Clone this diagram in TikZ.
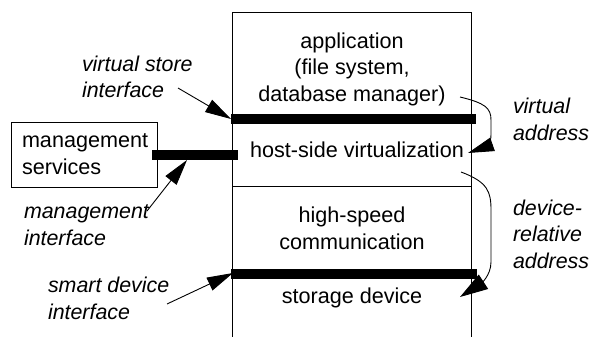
\documentclass[tikz,border=0pt]{standalone}
\usepackage{fontspec}
\setmainfont{Liberation Sans}
\usetikzlibrary{arrows.meta}
\begin{document}
\begin{tikzpicture}[x=1pt,y=-1pt,
  every node/.style={inner sep=0pt, outer sep=0pt},
  txt/.style={font=\fontsize{21.6}{26.5}\selectfont, align=center, anchor=base},
  lbl/.style={font=\fontsize{21.4}{26.5}\selectfont\itshape, align=left, anchor=base west},
  thinline/.style={line width=0.9pt},
  bar/.style={line width=10pt},
  ptr/.style={line width=0.9pt, -{Triangle[length=26pt,width=14pt]}},
  bigptr/.style={line width=0.9pt, -{Triangle[length=28pt,width=17pt]}},
]
\useasboundingbox (0,0) rectangle (592,337);
% main column
\coordinate (bl) at (232,340); \coordinate (tl) at (232,12);
\coordinate (tr) at (471,12);  \coordinate (br) at (471,340);
\draw[thinline] (bl) -- (tl) -- (tr) -- (br);
\coordinate (ml) at (232,186); \coordinate (mr) at (471,186);
\draw[thinline] (ml) -- (mr);
% layer texts (base anchor = baseline of last line)
\node[txt] (app) at (352,101) {application\\(file system,\\database manager)};
\node[txt] (hsv) at (357,157) {host-side virtualization};
\node[txt] (hsc) at (352,249) {high-speed\\communication};
\node[txt] (sd) at (352,303) {storage device};
% interface bars
\coordinate (b1l) at (231,119); \coordinate (b1r) at (476,119);
\draw[bar] (b1l) -- (b1r);
\coordinate (b2l) at (152,155); \coordinate (b2r) at (238,155);
\draw[bar] (b2l) -- (b2r);
\coordinate (b3l) at (231,274); \coordinate (b3r) at (477,274);
\draw[bar] (b3l) -- (b3r);
% management services box
\node[draw, thinline, minimum width=146pt, minimum height=65pt, anchor=north west] (msbox) at (11,122) {};
\node[txt, anchor=base west, align=left] (ms) at (22,174) {management\\services};
% labels
\node[lbl] (vsi) at (82,98) {virtual store\\interface};
\node[lbl] (va) at (513,140) {virtual\\address};
\node[lbl] (mi) at (24,245) {management\\interface};
\node[lbl] (dra) at (513,268) {device-\\relative\\address};
\node[lbl] (sdi) at (48,319) {smart device\\interface};
% pointers
\coordinate (vs0) at (178,88); \coordinate (vs1) at (231,119);
\draw[ptr] (vs0) -- (vs1);
\coordinate (mi0) at (147,211); \coordinate (mi1) at (187,160);
\draw[ptr] (mi0) -- (mi1);
\coordinate (sd0) at (167,304); \coordinate (sd1) at (233,273);
\draw[ptr] (sd0) -- (sd1);
% address mappings
\coordinate (va0) at (460,97); \coordinate (va1) at (468,153);
\draw[ptr] (va0) .. controls (485,103) and (491,108) .. (491,120) -- (491,135) .. controls (491,145) and (485,147) .. (va1);
\coordinate (dr0) at (461,172); \coordinate (dr1) at (460,297);
\draw[bigptr] (dr0) .. controls (488,182) and (491,192) .. (491,210) -- (491,262) .. controls (491,276) and (480,284) .. (dr1);
\end{tikzpicture}
\end{document}
